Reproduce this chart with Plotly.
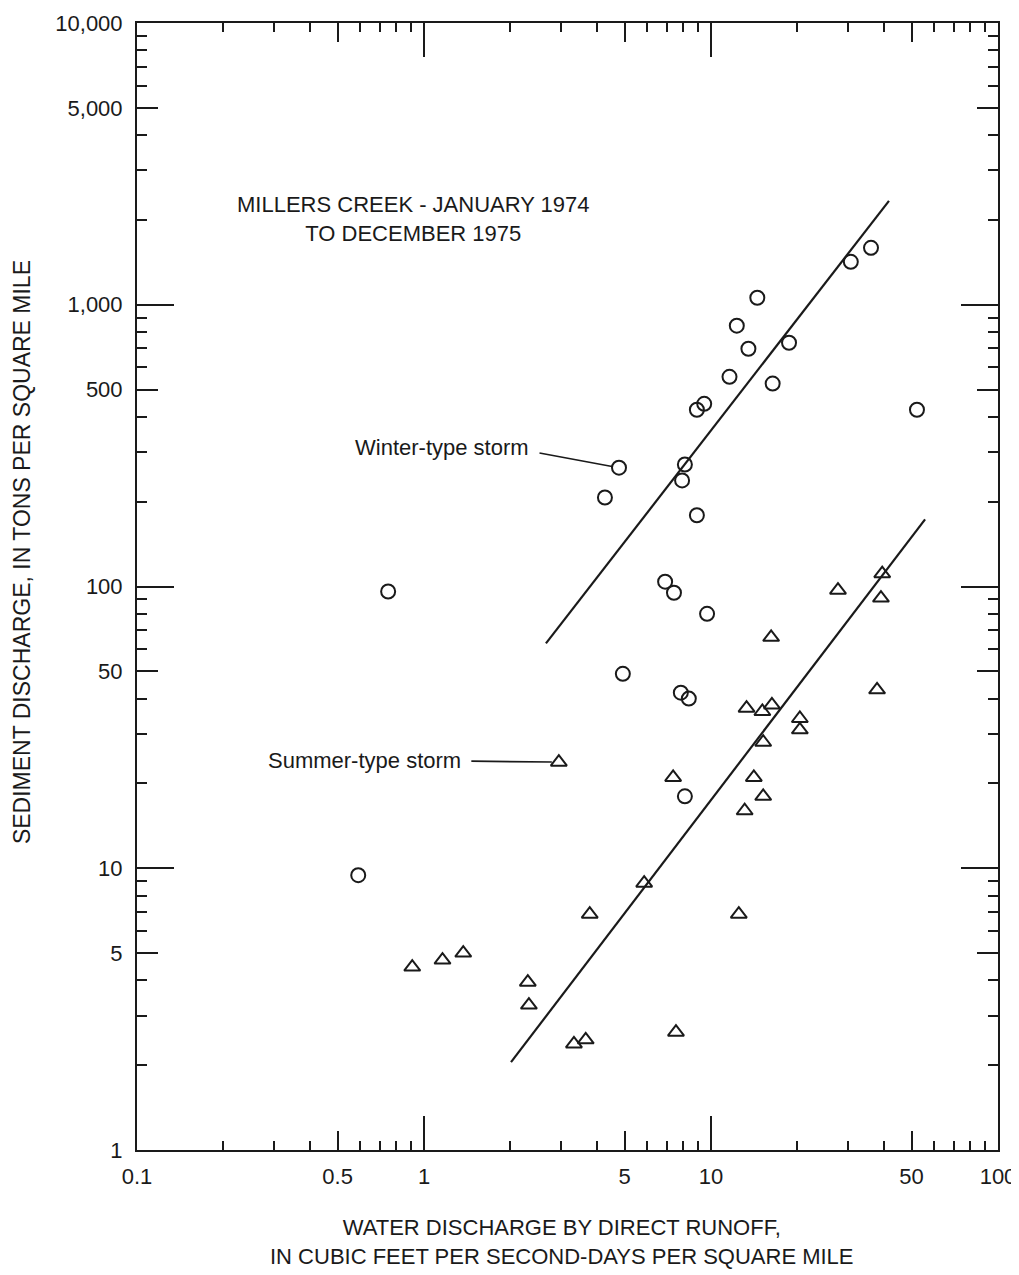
import math
import plotly.graph_objects as go

# Water discharge (cfs-days / sq mi) and sediment discharge (tons / sq mi)
winter_q = [0.75, 4.93, 0.59, 14.5, 12.3, 13.5, 18.7, 11.6, 16.4, 8.93, 9.47, 52.2,
            4.78, 8.11, 7.93, 4.27, 8.93, 30.7, 36.1, 6.92, 7.43, 9.69, 7.85, 8.37, 8.11]
winter_sed = [96, 49, 9.45, 1059, 843, 698, 733, 555, 525, 424, 445, 424,
              264, 271, 238, 207, 179, 1420, 1592, 104, 95, 80, 42, 40, 18]

summer_q = [27.7, 39.5, 39.1, 16.2, 37.9, 13.3, 15.1, 16.3, 20.4, 20.4, 15.2, 7.38, 14.1,
            15.2, 13.1, 2.95, 5.85, 3.78, 12.5, 0.91, 1.16, 1.37, 2.30, 2.32, 3.33, 3.66, 7.55]
summer_sed = [97, 111, 91, 66, 43, 37, 36, 38, 34, 31, 28, 21, 21,
              18, 16, 23.8, 8.85, 6.87, 6.87, 4.46, 4.72, 5.0, 3.94, 3.27, 2.38, 2.46, 2.62]

# fitted lines (end points)
winter_fit_q = [2.66, 41.7]
winter_fit_sed = [62.8, 2338]
summer_fit_q = [2.01, 55.7]
summer_fit_sed = [2.05, 173]

# which points carry the leader labels
winter_label_idx = 12
summer_label_idx = 15

x_tick_vals = [0.1, 0.5, 1, 5, 10, 50, 100]
x_tick_text = ["0.1", "0.5", "1", "5", "10", "50", "100"]
y_tick_vals = [1, 5, 10, 50, 100, 500, 1000, 5000, 10000]
y_tick_text = ["1", "5", "10", "50", "100", "500", "1,000", "5,000", "10,000"]
x_decades = [0.1, 1, 10, 100]
y_decades = [1, 10, 100, 1000, 10000]
minor_mantissas = [2, 3, 4, 6, 7, 8, 9]

x_minor = [m * d for d in x_decades[:-1] for m in minor_mantissas]
y_minor = [m * d for d in y_decades[:-1] for m in minor_mantissas]

INK = "#1a1a1a"
FONT = "Liberation Sans, Arial, sans-serif"
FS = 22

fig = go.Figure()
fig.add_trace(go.Scatter(x=winter_fit_q, y=winter_fit_sed, mode="lines",
                         line=dict(color=INK, width=2.2), showlegend=False))
fig.add_trace(go.Scatter(x=summer_fit_q, y=summer_fit_sed, mode="lines",
                         line=dict(color=INK, width=2.2), showlegend=False))
fig.add_trace(go.Scatter(x=winter_q, y=winter_sed, mode="markers",
                         marker=dict(symbol="circle-open", size=14, color=INK,
                                     line=dict(width=2, color=INK)),
                         showlegend=False))
fig.add_trace(go.Scatter(x=summer_q, y=summer_sed, mode="markers",
                         marker=dict(symbol="triangle-up-open", size=14, color=INK,
                                     line=dict(width=2, color=INK)),
                         showlegend=False))

xrange = [-1, 2]
yrange = [0, 4]
tick_common = dict(ticks="inside", tickcolor=INK, tickwidth=1.6, showgrid=False,
                   zeroline=False, automargin=False)

# page body adds 8px, so the figure is a bit smaller than the window
fig.update_layout(
    width=1011, height=1267,
    margin=dict(l=129, r=21, t=15, b=125),
    paper_bgcolor="white", plot_bgcolor="white",
    font=dict(family=FONT, size=FS, color=INK),
    xaxis=dict(type="log", range=xrange, tickmode="array", tickvals=x_tick_vals,
               ticktext=x_tick_text, ticklen=19, showline=True, linewidth=2,
               linecolor=INK, mirror="ticks", ticklabelstandoff=6,
               ticklabeloverflow="allow", **tick_common),
    xaxis2=dict(type="log", range=xrange, overlaying="x", anchor="y", tickmode="array",
                tickvals=x_decades, ticklen=34, showticklabels=False, showline=False,
                mirror="ticks", **tick_common),
    xaxis3=dict(type="log", range=xrange, overlaying="x", anchor="y", tickmode="array",
                tickvals=x_minor, ticklen=9, showticklabels=False, showline=False,
                mirror="ticks", **tick_common),
    yaxis=dict(type="log", range=yrange, tickmode="array", tickvals=y_tick_vals,
               ticktext=y_tick_text, ticklen=21, showline=True, linewidth=2,
               linecolor=INK, mirror="ticks", ticklabelstandoff=8,
               ticklabeloverflow="allow", **tick_common),
    yaxis2=dict(type="log", range=yrange, overlaying="y", anchor="x", tickmode="array",
                tickvals=y_decades, ticklen=37, showticklabels=False, showline=False,
                mirror="ticks", **tick_common),
    yaxis3=dict(type="log", range=yrange, overlaying="y", anchor="x", tickmode="array",
                tickvals=y_minor, ticklen=10, showticklabels=False, showline=False,
                mirror="ticks", **tick_common),
)

# invisible traces so the overlay axes get drawn
fig.add_trace(go.Scatter(x=[x_decades[0]], y=[y_decades[0]], xaxis="x2", yaxis="y2",
                         mode="markers", marker=dict(opacity=0), hoverinfo="skip",
                         showlegend=False))
fig.add_trace(go.Scatter(x=[x_decades[0]], y=[y_decades[0]], xaxis="x3", yaxis="y3",
                         mode="markers", marker=dict(opacity=0), hoverinfo="skip",
                         showlegend=False))

texts = [
    ("MILLERS CREEK - JANUARY 1974<br>TO DECEMBER 1975", 0.3206, 0.826, 0, 22),
    ("WATER DISCHARGE BY DIRECT RUNOFF,<br>IN CUBIC FEET PER SECOND-DAYS PER SQUARE MILE",
     0.4936, -0.0816, 0, 22),
    ("SEDIMENT DISCHARGE, IN TONS PER SQUARE MILE", -0.1335, 0.5306, -90, 23),
    ("Winter-type storm", 0.3543, 0.6229, 0, FS),
    ("Summer-type storm", 0.2637, 0.3452, 0, FS),
]
for txt, px_, py_, ang, fs in texts:
    fig.add_annotation(text=txt, x=px_, y=py_, xref="paper", yref="paper",
                       xanchor="center", yanchor="middle", showarrow=False,
                       textangle=ang, font=dict(size=fs, color=INK, family=FONT))

# leader lines (annotation positions on log axes are given in log10 units)
fig.add_annotation(x=math.log10(winter_q[winter_label_idx]),
                   y=math.log10(winter_sed[winter_label_idx]),
                   xref="x", yref="y", text="", showarrow=True, arrowhead=0,
                   arrowwidth=1.6, arrowcolor=INK, ax=-81, ay=-15, standoff=7)
fig.add_annotation(x=math.log10(summer_q[summer_label_idx]),
                   y=math.log10(summer_sed[summer_label_idx]),
                   xref="x", yref="y", text="", showarrow=True, arrowhead=0,
                   arrowwidth=1.6, arrowcolor=INK, ax=-89, ay=-1, standoff=7)

fig.write_html("out.html")
